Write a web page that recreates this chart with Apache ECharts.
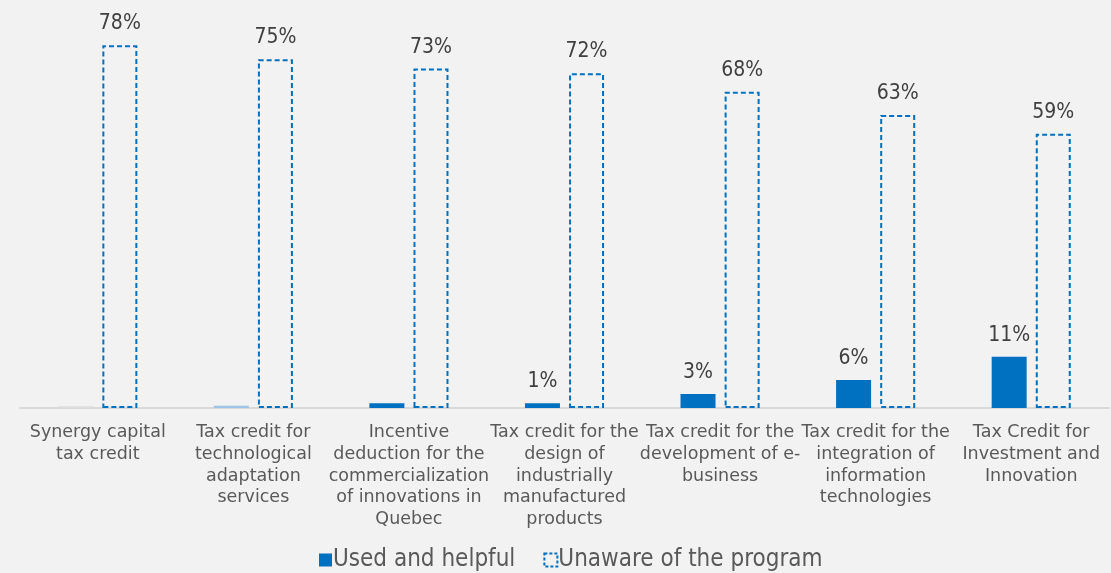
<!DOCTYPE html>
<html>
<head>
<meta charset="utf-8">
<script src="https://cdn.jsdelivr.net/npm/echarts@6/dist/echarts.min.js"></script>
<style>
html,body{margin:0;padding:0;background:#f2f2f2;}
#c{width:1111px;height:573px;}
</style>
</head>
<body>
<div id="c"></div>
<script>
const categories = [
  "Synergy capital\ntax credit",
  "Tax credit for\ntechnological\nadaptation\nservices",
  "Incentive\ndeduction for the\ncommercialization\nof innovations in\nQuebec",
  "Tax credit for the\ndesign of\nindustrially\nmanufactured\nproducts",
  "Tax credit for the\ndevelopment of e-\nbusiness",
  "Tax credit for the\nintegration of\ninformation\ntechnologies",
  "Tax Credit for\nInvestment and\nInnovation"
];
const usedHelpful = [0.4, 0.5, 1, 1, 3, 6, 11];
const usedLabels = [false, false, false, true, true, true, true];
const unaware = [78, 75, 73, 72, 68, 63, 59];
const seriesNames = ["Used and helpful", "Unaware of the program"];

const FONT = "DejaVu Sans";
const VFONT = "'DejaVu Sans Condensed', sans-serif";
const LFONT = "'DejaVu Sans Condensed', 'DejaVu Sans', sans-serif";
const blue = "#0070c0";
const specialColors = ["#dcdcdc", "#9dc3e6", null, null, null, null, null];

const chart = echarts.init(document.getElementById('c'));
chart.setOption({
  backgroundColor: "#f2f2f2",
  textStyle: {fontFamily: FONT},
  grid: {left: 20, right: 2, top: 36, bottom: 165},
  legend: {
    bottom: -4,
    left: 314,
    itemGap: 28,
    itemWidth: 13,
    itemHeight: 13,
    textStyle: {fontFamily: LFONT, fontSize: 24, color: "#595959", padding: [0,0,0,-4]},
    data: [
      {name: seriesNames[0], icon: 'rect', itemStyle: {color: blue}},
      {name: seriesNames[1], icon: 'rect', itemStyle: {color: 'transparent', borderColor: blue, borderWidth: 2, borderType: [3,2]}}
    ]
  },
  xAxis: {
    type: 'category',
    data: categories,
    axisLine: {lineStyle: {color: "#d9d9d9", width: 2}},
    axisTick: {show: false},
    axisLabel: {
      interval: 0,
      fontFamily: FONT,
      fontSize: 17.5,
      lineHeight: 21.6,
      color: "#595959",
      margin: 14
    }
  },
  yAxis: {
    type: 'value',
    min: 0, max: 80,
    show: false,
    splitLine: {show: false}
  },
  series: [
    {
      name: seriesNames[0],
      type: 'bar',
      barWidth: 35,
      barGap: '26%',
      itemStyle: {color: blue},
      data: usedHelpful.map((v, i) => ({
        value: v,
        itemStyle: specialColors[i] ? {color: specialColors[i]} : undefined,
        label: {show: usedLabels[i]}
      })),
      label: {
        position: 'top',
        distance: 11,
        fontFamily: VFONT,
        fontSize: 21,
        color: "#404040",
        formatter: p => Math.round(p.value) + "%"
      }
    },
    {
      name: seriesNames[1],
      type: 'bar',
      barWidth: 35,
      itemStyle: {color: 'transparent', borderColor: blue, borderWidth: 2, borderType: [5,3]},
      data: unaware,
      label: {
        show: true,
        position: 'top',
        distance: 11,
        fontFamily: VFONT,
        fontSize: 21,
        color: "#404040",
        formatter: p => p.value + "%"
      }
    }
  ]
});
</script>
</body>
</html>
